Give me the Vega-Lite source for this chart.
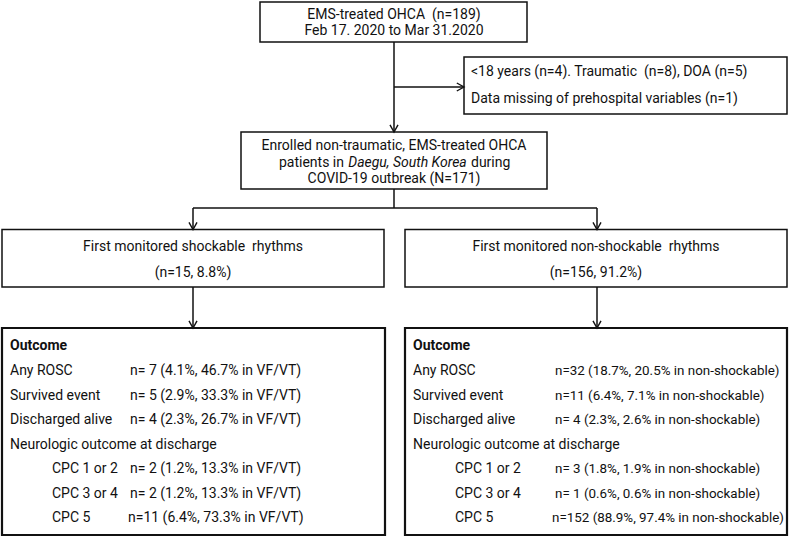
{
  "$schema": "https://vega.github.io/schema/vega-lite/v6.json",
  "width": 790,
  "height": 538,
  "padding": 0,
  "autosize": {"type": "none"},
  "background": "white",
  "config": {"view": {"stroke": null}, "text": {"font": "Roboto", "fontSize": 14, "color": "#111111", "baseline": "middle"}},
  "datasets": {
    "boxes": [
      {"id": "top", "x": 260, "x2": 527, "y": 2, "y2": 42, "kind": "step"},
      {"id": "excluded", "x": 464, "x2": 787, "y": 57, "y2": 114, "kind": "step"},
      {"id": "enrolled", "x": 241, "x2": 547, "y": 132, "y2": 189, "kind": "step"},
      {"id": "shockable", "x": 2, "x2": 384, "y": 229.5, "y2": 287, "kind": "step"},
      {"id": "nonshockable", "x": 405, "x2": 787, "y": 229.5, "y2": 287, "kind": "step"},
      {"id": "outcome_shock", "x": 2, "x2": 385, "y": 328, "y2": 535, "kind": "outcome"},
      {"id": "outcome_nonshock", "x": 405, "x2": 787, "y": 328, "y2": 535, "kind": "outcome"}
    ],
    "links": [
      {"x": 394, "y": 42, "x2": 394, "y2": 132},
      {"x": 394, "y": 87, "x2": 464, "y2": 87},
      {"x": 394, "y": 189, "x2": 394, "y2": 208},
      {"x": 193, "y": 208, "x2": 597, "y2": 208},
      {"x": 193, "y": 208, "x2": 193, "y2": 229.5},
      {"x": 597, "y": 208, "x2": 597, "y2": 229.5},
      {"x": 193, "y": 287, "x2": 193, "y2": 328},
      {"x": 597, "y": 287, "x2": 597, "y2": 328}
    ],
    "heads": [
      {"x": 464, "y": 87, "dir": "right"},
      {"x": 394, "y": 132, "dir": "down"},
      {"x": 193, "y": 229.5, "dir": "down"},
      {"x": 597, "y": 229.5, "dir": "down"},
      {"x": 193, "y": 328, "dir": "down"},
      {"x": 597, "y": 328, "dir": "down"}
    ],
    "labels": [
      {"text": "EMS-treated OHCA \u00a0(n=189)", "x": 394, "y": 15, "role": "c"},
      {"text": "Feb 17. 2020 to Mar 31.2020", "x": 394, "y": 31, "role": "c"},
      {"text": "<18 years (n=4). Traumatic \u00a0(n=8), DOA (n=5)", "x": 471, "y": 71.5, "role": "l"},
      {"text": "Data missing of prehospital variables (n=1)", "x": 471, "y": 99, "role": "l"},
      {"text": "Enrolled non-traumatic, EMS-treated OHCA", "x": 394, "y": 146, "role": "c"},
      {"text": "patients in", "x": 344, "y": 162.5, "role": "r"},
      {"text": "Daegu, South Korea", "x": 407.5, "y": 162.5, "role": "i"},
      {"text": "during", "x": 471, "y": 162.5, "role": "l"},
      {"text": "COVID-19 outbreak (N=171)", "x": 394, "y": 179, "role": "c"},
      {"text": "First monitored shockable \u00a0rhythms", "x": 193, "y": 247, "role": "c"},
      {"text": "(n=15, 8.8%)", "x": 193, "y": 273, "role": "c"},
      {"text": "First monitored non-shockable \u00a0rhythms", "x": 596, "y": 247, "role": "c"},
      {"text": "(n=156, 91.2%)", "x": 596, "y": 273, "role": "c"},
      {"text": "Outcome", "x": 10, "y": 346, "role": "b"},
      {"text": "Any ROSC", "x": 10, "y": 371, "role": "l"},
      {"text": "n= 7 (4.1%, 46.7% in VF/VT)", "x": 130, "y": 371, "role": "l"},
      {"text": "Survived event", "x": 10, "y": 395.5, "role": "l"},
      {"text": "n= 5 (2.9%, 33.3% in VF/VT)", "x": 130, "y": 395.5, "role": "l"},
      {"text": "Discharged alive", "x": 10, "y": 420, "role": "l"},
      {"text": "n= 4 (2.3%, 26.7% in VF/VT)", "x": 130, "y": 420, "role": "l"},
      {"text": "Neurologic outcome at discharge", "x": 10, "y": 444.5, "role": "l"},
      {"text": "CPC 1 or 2", "x": 52, "y": 469, "role": "l"},
      {"text": "n= 2 (1.2%, 13.3% in VF/VT)", "x": 130, "y": 469, "role": "l"},
      {"text": "CPC 3 or 4", "x": 52, "y": 493.5, "role": "l"},
      {"text": "n= 2 (1.2%, 13.3% in VF/VT)", "x": 130, "y": 493.5, "role": "l"},
      {"text": "CPC 5", "x": 52, "y": 518, "role": "l"},
      {"text": "n=11 (6.4%, 73.3% in VF/VT)", "x": 128, "y": 518, "role": "l"},
      {"text": "Outcome", "x": 413, "y": 346, "role": "b"},
      {"text": "Any ROSC", "x": 413, "y": 371, "role": "l"},
      {"text": "n=32 (18.7%, 20.5% in non-shockable)", "x": 555, "y": 371, "role": "v"},
      {"text": "Survived event", "x": 413, "y": 395.5, "role": "l"},
      {"text": "n=11 (6.4%, 7.1% in non-shockable)", "x": 555, "y": 395.5, "role": "v"},
      {"text": "Discharged alive", "x": 413, "y": 420, "role": "l"},
      {"text": "n= 4 (2.3%, 2.6% in non-shockable)", "x": 555, "y": 420, "role": "v"},
      {"text": "Neurologic outcome at discharge", "x": 413, "y": 444.5, "role": "l"},
      {"text": "CPC 1 or 2", "x": 455, "y": 469, "role": "l"},
      {"text": "n= 3 (1.8%, 1.9% in non-shockable)", "x": 555, "y": 469, "role": "v"},
      {"text": "CPC 3 or 4", "x": 455, "y": 493.5, "role": "l"},
      {"text": "n= 1 (0.6%, 0.6% in non-shockable)", "x": 555, "y": 493.5, "role": "v"},
      {"text": "CPC 5", "x": 455, "y": 518, "role": "l"},
      {"text": "n=152 (88.9%, 97.4% in non-shockable)", "x": 552, "y": 518, "role": "v"}
    ]
  },
  "layer": [
    {
      "data": {"name": "boxes"},
      "mark": {"type": "rect", "fill": "white", "stroke": "#111111"},
      "encoding": {
        "x": {"field": "x", "type": "quantitative", "scale": {"domain": [0, 790], "nice": false, "zero": false}, "axis": null},
        "x2": {"field": "x2"},
        "y": {"field": "y", "type": "quantitative", "scale": {"domain": [0, 538], "nice": false, "zero": false, "reverse": true}, "axis": null},
        "y2": {"field": "y2"},
        "strokeWidth": {"field": "kind", "type": "nominal", "scale": {"domain": ["step", "outcome"], "range": [1.5, 2.2]}, "legend": null}
      }
    },
    {
      "data": {"name": "links"},
      "mark": {"type": "rule", "color": "#111111", "strokeWidth": 1.5},
      "encoding": {
        "x": {"field": "x", "type": "quantitative"},
        "x2": {"field": "x2"},
        "y": {"field": "y", "type": "quantitative"},
        "y2": {"field": "y2"}
      }
    },
    {
      "data": {"name": "heads"},
      "mark": {"type": "point", "filled": false, "color": "#111111", "strokeWidth": 1.4, "opacity": 1, "size": 64},
      "encoding": {
        "x": {"field": "x", "type": "quantitative"},
        "y": {"field": "y", "type": "quantitative"},
        "shape": {"field": "dir", "type": "nominal", "scale": {"domain": ["down", "right"], "range": ["M -1 -1.8 L 0 0 L 1 -1.8", "M -1.8 -1 L 0 0 L -1.8 1"]}, "legend": null}
      }
    },
    {
      "data": {"name": "labels"},
      "transform": [{"filter": "datum.role === 'c'"}],
      "mark": {"type": "text", "align": "center"},
      "encoding": {
        "x": {"field": "x", "type": "quantitative"},
        "y": {"field": "y", "type": "quantitative"},
        "text": {"field": "text"}
      }
    },
    {
      "data": {"name": "labels"},
      "transform": [{"filter": "datum.role === 'l'"}],
      "mark": {"type": "text", "align": "left"},
      "encoding": {
        "x": {"field": "x", "type": "quantitative"},
        "y": {"field": "y", "type": "quantitative"},
        "text": {"field": "text"}
      }
    },
    {
      "data": {"name": "labels"},
      "transform": [{"filter": "datum.role === 'v'"}],
      "mark": {"type": "text", "align": "left", "fontSize": 13.4},
      "encoding": {
        "x": {"field": "x", "type": "quantitative"},
        "y": {"field": "y", "type": "quantitative"},
        "text": {"field": "text"}
      }
    },
    {
      "data": {"name": "labels"},
      "transform": [{"filter": "datum.role === 'r'"}],
      "mark": {"type": "text", "align": "right"},
      "encoding": {
        "x": {"field": "x", "type": "quantitative"},
        "y": {"field": "y", "type": "quantitative"},
        "text": {"field": "text"}
      }
    },
    {
      "data": {"name": "labels"},
      "transform": [{"filter": "datum.role === 'i'"}],
      "mark": {"type": "text", "align": "center", "fontStyle": "italic"},
      "encoding": {
        "x": {"field": "x", "type": "quantitative"},
        "y": {"field": "y", "type": "quantitative"},
        "text": {"field": "text"}
      }
    },
    {
      "data": {"name": "labels"},
      "transform": [{"filter": "datum.role === 'b'"}],
      "mark": {"type": "text", "align": "left", "fontWeight": "bold"},
      "encoding": {
        "x": {"field": "x", "type": "quantitative"},
        "y": {"field": "y", "type": "quantitative"},
        "text": {"field": "text"}
      }
    }
  ]
}
